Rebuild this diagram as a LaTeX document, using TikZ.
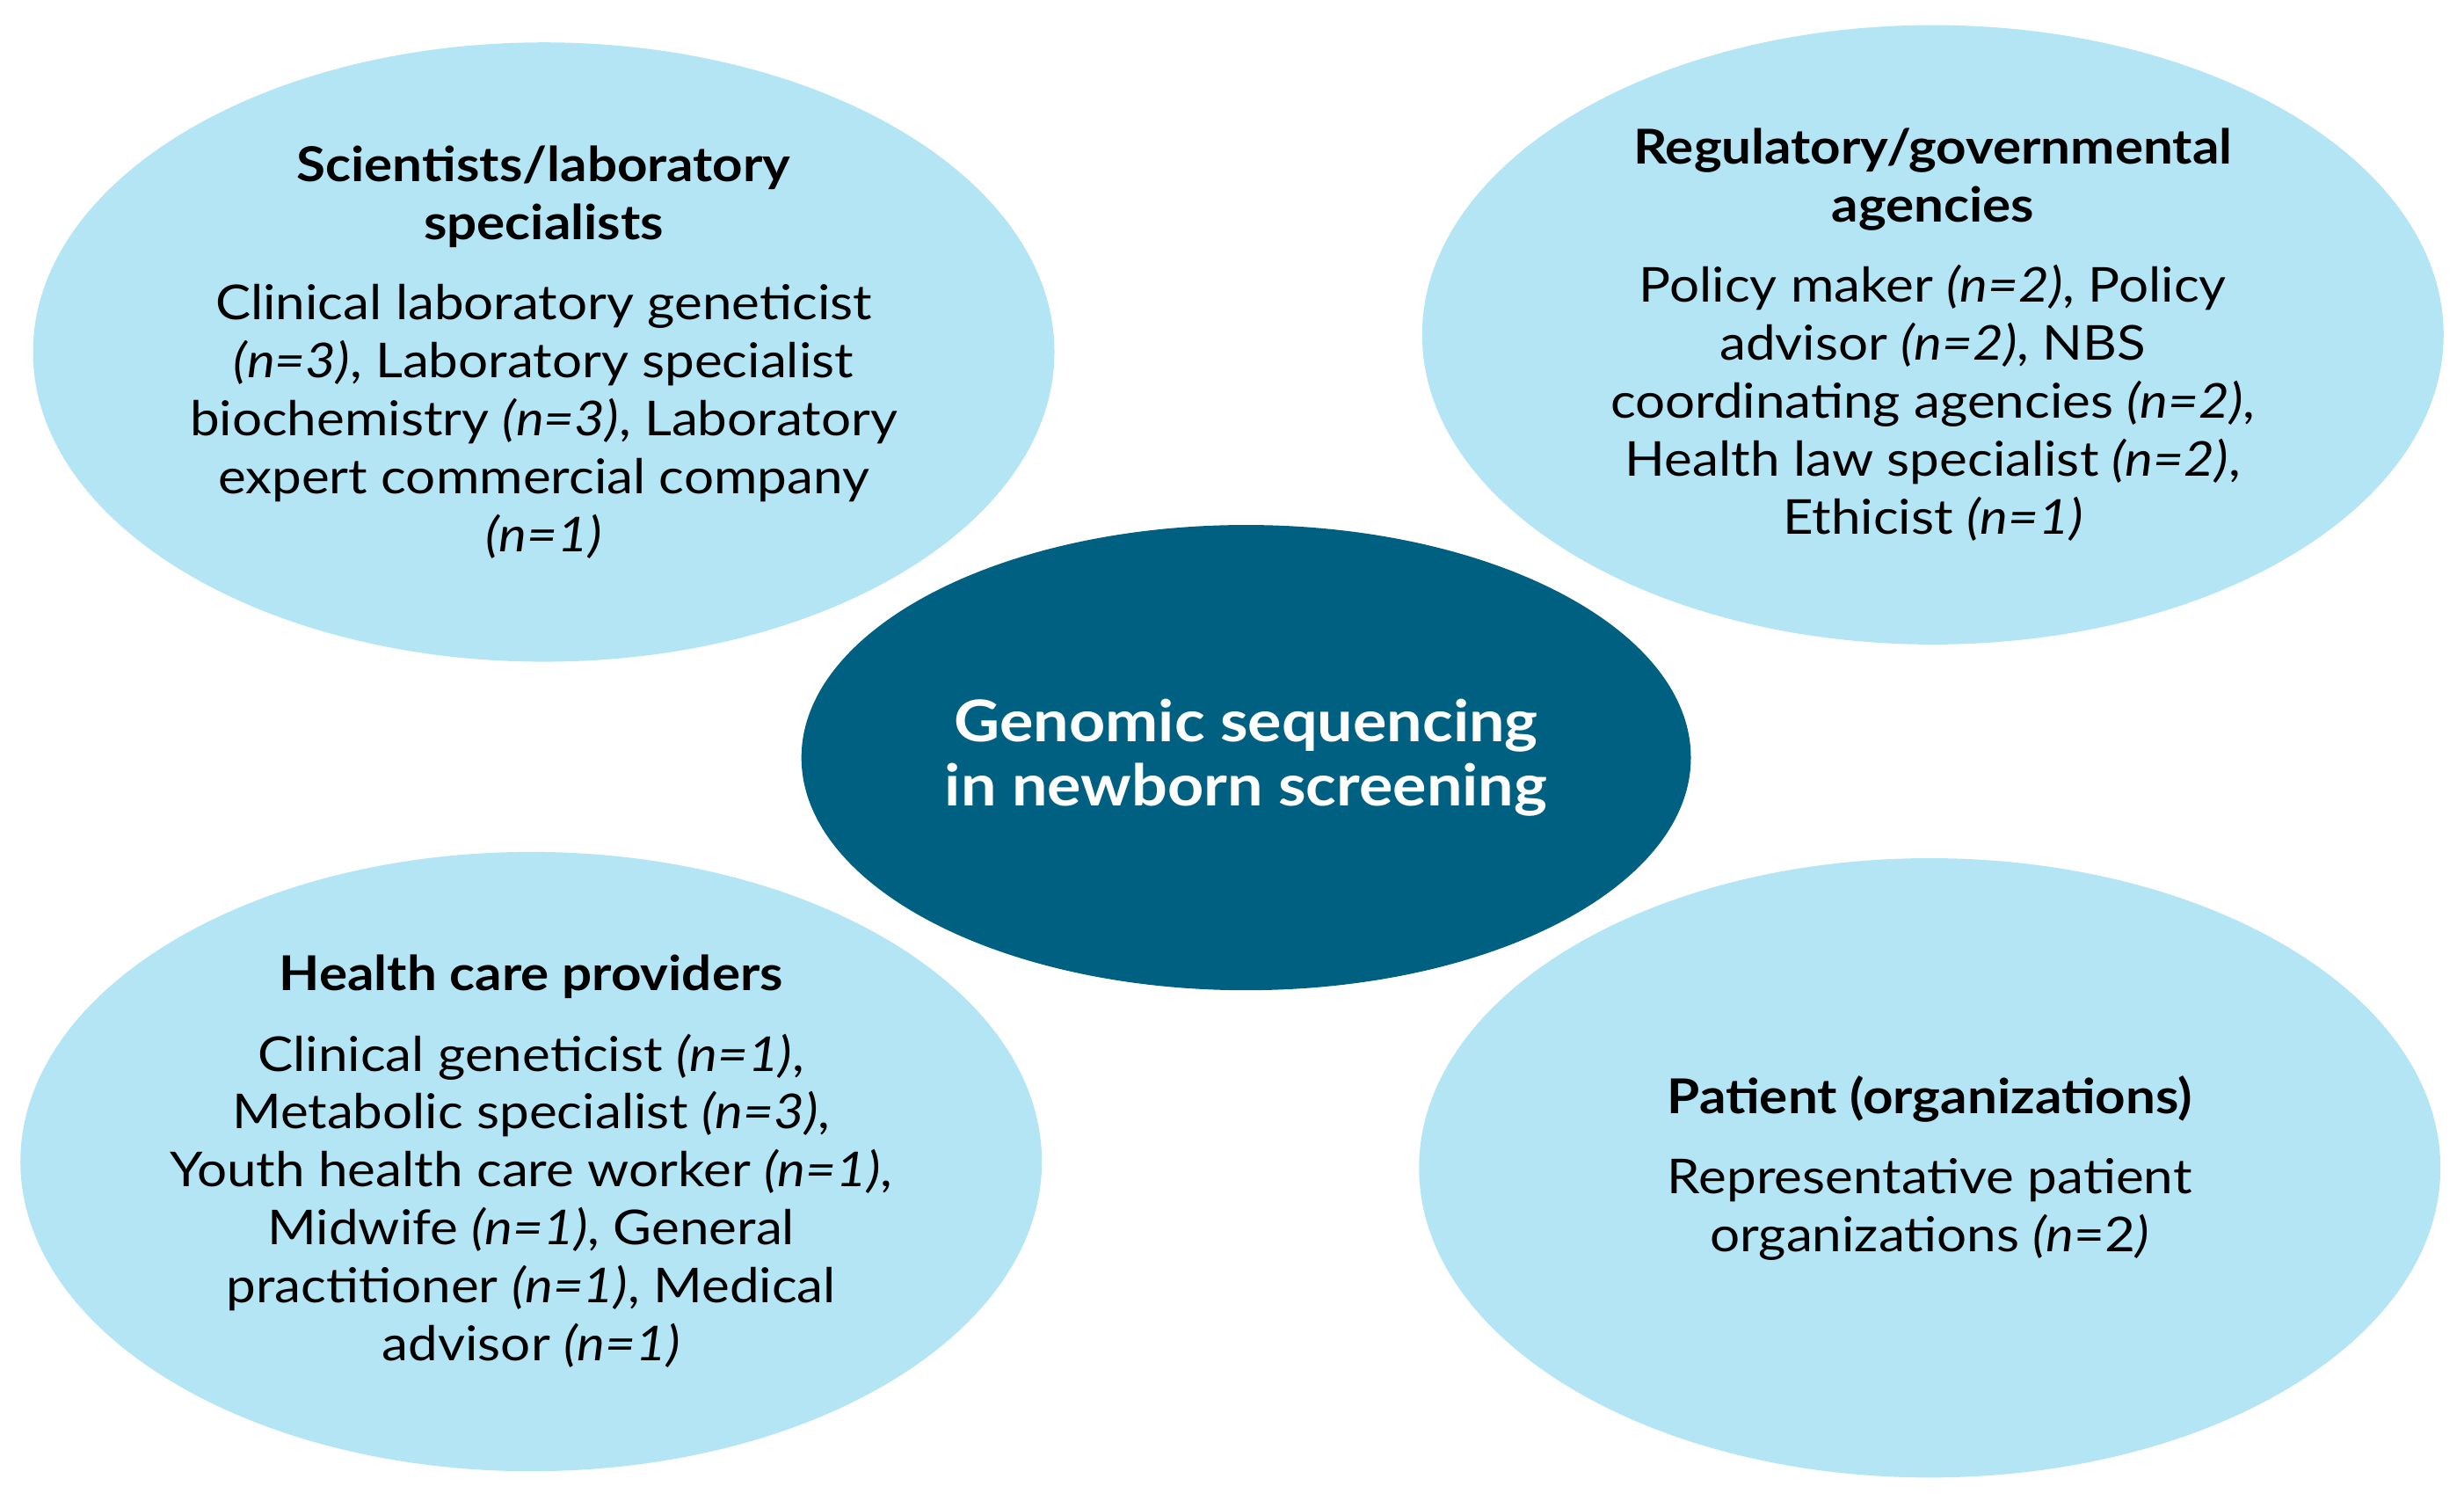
\documentclass[tikz,border=0pt]{standalone}
\usepackage{fontspec}
\setmainfont{Lato}[FakeStretch=1.1]
\usetikzlibrary{shapes,positioning}
\definecolor{groupblue}{RGB}{180,229,245}
\definecolor{coreteal}{RGB}{0,96,130}

\begin{document}
\begin{tikzpicture}[
    group/.style={ellipse, fill=groupblue, minimum width=6.5cm, minimum height=3.94cm, inner sep=0pt},
    grouptext/.style={align=center, font=\fontsize{8.7}{10.5}\selectfont}]
    \useasboundingbox (0,0) rectangle (15.68,9.59);

    % stakeholder groups
    \node[group] (sci) at (3.46,7.35) {};
    \node[grouptext] (scitext) at (sci) {\textbf{Scientists/laboratory}\\\textbf{specialists}\\[4pt]
        Clinical laboratory geneticist\\\textit{(n=3)}, Laboratory specialist\\biochemistry \textit{(n=3)}, Laboratory\\expert commercial company\\\textit{(n=1)}};

    \node[group] (reg) at (12.30,7.46) {};
    \node[grouptext] (regtext) at (reg) {\textbf{Regulatory/governmental}\\\textbf{agencies}\\[4pt]
        Policy maker \textit{(n=2)}, Policy\\advisor \textit{(n=2)}, NBS\\coordinating agencies \textit{(n=2)},\\Health law specialist \textit{(n=2)},\\Ethicist \textit{(n=1)}};

    \node[group] (hcp) at (3.38,2.20) {};
    \node[grouptext] (hcptext) at (hcp) {\textbf{Health care providers}\\[4pt]
        Clinical geneticist \textit{(n=1)},\\Metabolic specialist \textit{(n=3)},\\Youth health care worker \textit{(n=1)},\\Midwife \textit{(n=1)}, General\\practitioner \textit{(n=1)}, Medical\\advisor \textit{(n=1)}};

    \node[group] (pat) at (12.28,2.16) {};
    \node[grouptext] (pattext) at (pat) {\textbf{Patient (organizations)}\\[4pt]
        Representative patient\\organizations \textit{(n}=2\textit{)}};

    % topic in the middle
    \node[ellipse, fill=coreteal, minimum width=5.66cm, minimum height=2.96cm, inner sep=0pt] (core) at (7.93,4.77) {};
    \node[align=center, text=white, font=\fontsize{10.4}{11.7}\selectfont\bfseries] (coretext) at (core) {Genomic sequencing\\in newborn screening};
\end{tikzpicture}
\end{document}
